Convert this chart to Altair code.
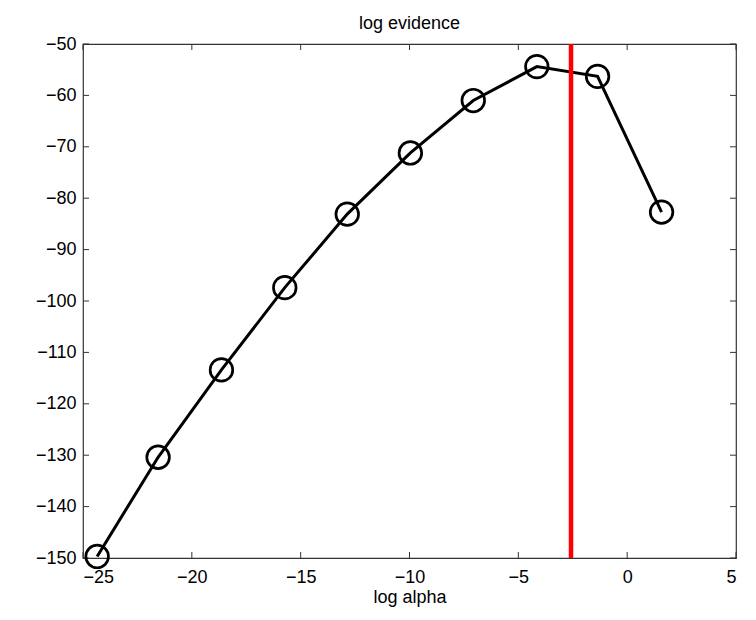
import altair as alt
import pandas as pd

log_alpha = [-24.35, -21.55, -18.64, -15.73, -12.86, -9.96, -7.07, -4.15, -1.36, 1.58]
log_evidence = [-149.7, -130.4, -113.4, -97.4, -83.1, -71.2, -61.0, -54.4, -56.3, -82.7]
best_alpha = [-2.58]

x_ticks = [-25, -20, -15, -10, -5, 0, 5]
y_ticks = [-150, -140, -130, -120, -110, -100, -90, -80, -70, -60, -50]

W, H = 653, 514
TICK = 6
FONT = "Liberation Sans"
FS = 18

df = pd.DataFrame({"log_alpha": log_alpha, "log_evidence": log_evidence})
vdf = pd.DataFrame({"x": best_alpha})
xt = pd.DataFrame({"t": x_ticks})
yt = pd.DataFrame({"t": y_ticks})

xscale = alt.Scale(domain=[-25, 5], nice=False, zero=False)
yscale = alt.Scale(domain=[-150, -50], nice=False, zero=False)

minus = "replace(datum.label, '-', '\u2212')"
xaxis = alt.Axis(values=x_ticks, grid=False, domain=False, ticks=False, tickSize=0,
                 labelPadding=10, labelFontSize=FS, labelFont=FONT, labelColor="black",
                 title="log alpha", titleFont=FONT, titleFontSize=FS,
                 titleFontWeight="normal", titleColor="black", titlePadding=2,
                 labelExpr=minus)
yaxis = alt.Axis(values=y_ticks, grid=False, domain=False, ticks=False, tickSize=0,
                 labelPadding=7, labelFontSize=FS, labelFont=FONT, labelColor="black",
                 title=None, labelExpr=minus)

X = alt.X("log_alpha:Q", scale=xscale, axis=xaxis)
Y = alt.Y("log_evidence:Q", scale=yscale, axis=yaxis)

line = alt.Chart(df).mark_line(color="black", strokeWidth=3).encode(x=X, y=Y)
pts = alt.Chart(df).mark_point(shape="circle", filled=False, color="black",
                               size=510, strokeWidth=2.7, opacity=1).encode(x=X, y=Y)
vline = alt.Chart(vdf).mark_rule(color="#ff0000", strokeWidth=4.5).encode(
    x=alt.X("x:Q", scale=xscale, axis=xaxis))

tick_color = "#333333"
xt_bot = alt.Chart(xt).mark_rule(color=tick_color, strokeWidth=1).encode(
    x=alt.X("t:Q", scale=xscale, axis=xaxis), y=alt.value(H), y2=alt.value(H - TICK))
xt_top = alt.Chart(xt).mark_rule(color=tick_color, strokeWidth=1).encode(
    x=alt.X("t:Q", scale=xscale, axis=xaxis), y=alt.value(0), y2=alt.value(TICK))
yt_left = alt.Chart(yt).mark_rule(color=tick_color, strokeWidth=1).encode(
    y=alt.Y("t:Q", scale=yscale, axis=yaxis), x=alt.value(0), x2=alt.value(TICK))
yt_right = alt.Chart(yt).mark_rule(color=tick_color, strokeWidth=1).encode(
    y=alt.Y("t:Q", scale=yscale, axis=yaxis), x=alt.value(W), x2=alt.value(W - TICK))

chart = alt.layer(xt_bot, xt_top, yt_left, yt_right, line, vline, pts).properties(
    width=W, height=H,
    title=alt.TitleParams("log evidence", font=FONT, fontSize=FS, fontWeight="normal",
                          color="black", offset=2),
    autosize=alt.AutoSizeParams(type="none"),
    padding={"left": 75, "top": 36, "right": 12, "bottom": 54},
).configure_view(stroke="#333333", strokeWidth=1.2)

chart.save("out.html", embed_options={"renderer": "svg", "actions": False})
